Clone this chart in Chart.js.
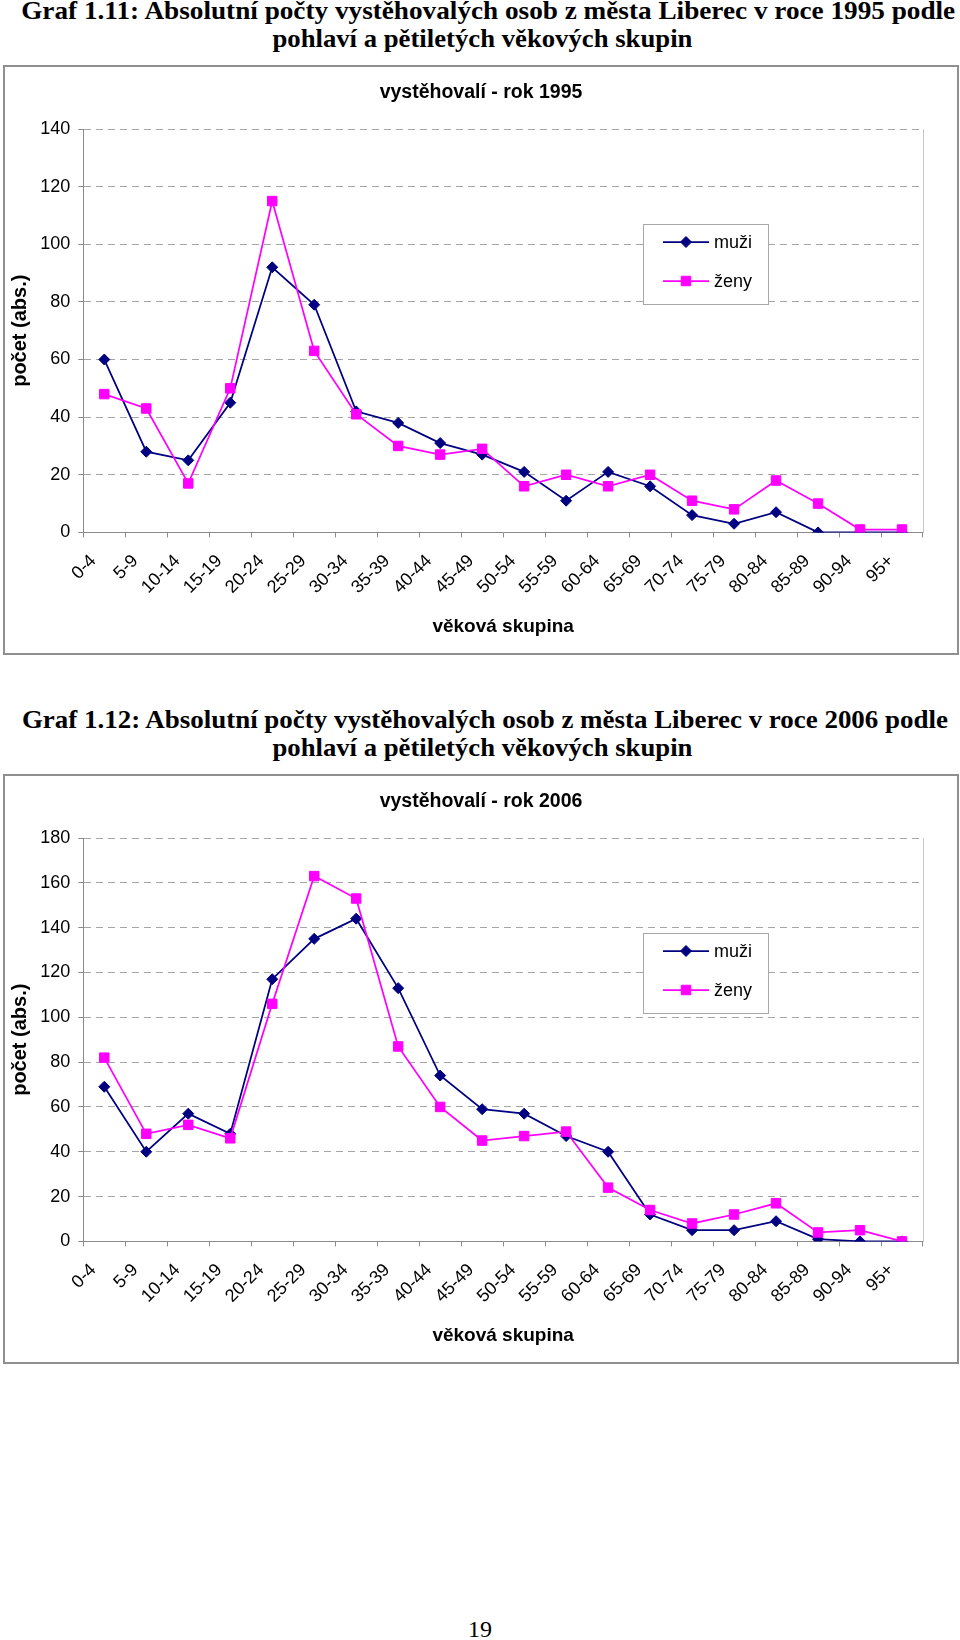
<!DOCTYPE html>
<html><head><meta charset="utf-8">
<script src="https://cdn.jsdelivr.net/npm/chart.js@4.4.1/dist/chart.umd.min.js"></script>
<style>
html,body{margin:0;padding:0;background:#fff;width:960px;height:1640px;overflow:hidden;}
.t{position:absolute;width:960px;text-align:center;font-family:"Liberation Serif","Times New Roman",serif;font-weight:bold;font-size:26px;line-height:24px;white-space:nowrap;color:#000;}
.t span{display:inline-block;transform-origin:center center;}
.box{position:absolute;left:3px;width:956px;height:590px;box-sizing:border-box;border:2px solid #8f8f8f;pointer-events:none;}
canvas.c{position:absolute;left:3px;}
.pg{position:absolute;left:0;width:960px;top:1617px;text-align:center;font-family:"Liberation Serif","Times New Roman",serif;font-size:24px;line-height:24px;}
</style></head><body>

<div class="t" style="left:8px;top:-1px"><span data-w="934">Graf 1.11: Absolutní počty vystěhovalých osob z města Liberec v roce 1995 podle</span></div>
<div class="t" style="left:2px;top:27px"><span data-w="420">pohlaví a pětiletých věkových skupin</span></div>
<canvas id="c1" class="c" width="956" height="590" style="top:65px;width:956px;height:590px"></canvas>
<div class="box" style="top:65px"></div>

<div class="t" style="left:5px;top:708px"><span data-w="926">Graf 1.12: Absolutní počty vystěhovalých osob z města Liberec v roce 2006 podle</span></div>
<div class="t" style="left:2px;top:736px"><span data-w="420">pohlaví a pětiletých věkových skupin</span></div>
<canvas id="c2" class="c" width="956" height="590" style="top:774px;width:956px;height:590px"></canvas>
<div class="box" style="top:774px"></div>

<div class="pg">19</div>

<script>
// ---------- data ----------
const ageGroups = ['0-4','5-9','10-14','15-19','20-24','25-29','30-34','35-39','40-44','45-49',
                   '50-54','55-59','60-64','65-69','70-74','75-79','80-84','85-89','90-94','95+'];
const seriesNames = ['muži', 'ženy'];
const muzi1995 = [60, 28, 25, 45, 92, 79, 42, 38, 31, 27, 21, 11, 21, 16, 6, 3, 7, 0, 0, 0];
const zeny1995 = [48, 43, 17, 50, 115, 63, 41, 30, 27, 29, 16, 20, 16, 20, 11, 8, 18, 10, 1, 1];
const muzi2006 = [69, 40, 57, 48, 117, 135, 144, 113, 74, 59, 57, 47, 40, 12, 5, 5, 9, 1, 0, 0];
const zeny2006 = [82, 48, 52, 46, 106, 163, 153, 87, 60, 45, 47, 49, 24, 14, 8, 12, 17, 4, 5, 0];
const yMax1995 = 140, yMax2006 = 180, yStep = 20;
const title1995 = 'vystěhovalí - rok 1995';
const title2006 = 'vystěhovalí - rok 2006';
const xTitle = 'věková skupina';
const yTitle = 'počet (abs.)';

// ---------- page titles fit ----------
document.querySelectorAll('.t span').forEach(s => {
  const target = +s.dataset.w;
  const w = s.getBoundingClientRect().width;
  s.style.transform = 'scaleX(' + (target / w) + ')';
});

// ---------- chart ----------
const FAM = '"Liberation Sans", Arial, Helvetica, sans-serif';
Chart.defaults.font.family = FAM;
Chart.defaults.color = '#000';

const boxLegend = {
  id: 'boxLegend',
  beforeDatasetsDraw(chart, args, o) {
    const ctx = chart.ctx;
    ctx.save();
    ctx.fillStyle = '#fff';
    ctx.fillRect(o.x, o.y, o.w, o.h);
    ctx.strokeStyle = '#a8a8a8';
    ctx.lineWidth = 1;
    ctx.strokeRect(o.x + 0.5, o.y + 0.5, o.w, o.h);
    const items = chart.data.datasets.slice().sort((a, b) => a.legendIndex - b.legendIndex);
    items.forEach((ds, i) => {
      const cy = o.y + o.firstRow + i * o.rowGap;
      const x0 = o.x + o.lineStart;
      ctx.setLineDash([]);
      ctx.strokeStyle = ds.borderColor;
      ctx.lineWidth = ds.borderWidth;
      ctx.beginPath(); ctx.moveTo(x0, cy); ctx.lineTo(x0 + o.lineLen, cy); ctx.stroke();
      ctx.fillStyle = ds.pointBackgroundColor;
      ctx.strokeStyle = ds.pointBorderColor;
      ctx.lineWidth = 1;
      Chart.helpers.drawPoint(ctx, {pointStyle: ds.pointStyle, radius: ds.pointRadius, rotation: 0, borderWidth: 1}, x0 + o.lineLen / 2, cy);
      ctx.fillStyle = '#000';
      ctx.font = '18px ' + FAM;
      ctx.textBaseline = 'middle';
      ctx.textAlign = 'left';
      ctx.fillText(ds.label, x0 + o.lineLen + o.textGap, cy + 1);
    });
    ctx.restore();
  }
};

function makeChart(id, title, muzi, zeny, yMax) {
  return new Chart(document.getElementById(id), {
    type: 'line',
    data: {
      labels: ageGroups,
      datasets: [
        {label: seriesNames[0], legendIndex: 0, order: 2, data: muzi, borderColor: '#000080', backgroundColor: '#000080',
         pointBackgroundColor: '#000080', pointBorderColor: '#000080', borderWidth: 1.75,
         pointStyle: 'rectRot', pointRadius: 5.5, pointBorderWidth: 1, tension: 0, fill: false},
        {label: seriesNames[1], legendIndex: 1, order: 1, data: zeny, borderColor: '#ff00ff', backgroundColor: '#ff00ff',
         pointBackgroundColor: '#ff00ff', pointBorderColor: '#ff00ff', borderWidth: 1.75,
         pointStyle: 'rect', pointRadius: 6.7, pointBorderWidth: 1, tension: 0, fill: false}
      ]
    },
    options: {
      responsive: false, animation: false, devicePixelRatio: 1, events: [],
      layout: {padding: {left: 0, right: 0, top: 0, bottom: 0}},
      plugins: {
        legend: {display: false},
        tooltip: {enabled: false},
        title: {display: true, text: title, color: '#000', font: {size: 19.5, weight: 'bold'}, padding: {top: 16.3, bottom: 24.3}},
        boxLegend: {x: 640, y: 159, w: 125, h: 80, firstRow: 18, rowGap: 39, lineStart: 20, lineLen: 46, textGap: 5}
      },
      scales: {
        x: {
          offset: true,
          grid: {display: true, drawOnChartArea: false, offset: true, tickLength: 5, color: '#8a8a8a', tickColor: '#8a8a8a'},
          border: {display: true, color: '#8a8a8a', width: 1},
          ticks: {color: '#000', font: {size: 18}, minRotation: 45, maxRotation: 45, autoSkip: false, padding: 13, labelOffset: -11},
          title: {display: true, text: xTitle, color: '#000', font: {size: 19, weight: 'bold'}, padding: {top: 0, bottom: 16.6}},
          afterFit: s => { s.height = 122.6; }
        },
        y: {
          min: 0, max: yMax,
          ticks: {stepSize: yStep, color: '#000', font: {size: 18}, padding: 8},
          grid: {color: '#a6a6a6', lineWidth: 1, tickLength: 5, tickColor: '#8a8a8a'},
          border: {display: true, color: '#8a8a8a', width: 1, dash: [7, 5]},
          title: {display: true, text: yTitle, color: '#000', font: {size: 20, weight: 'bold'}, padding: {top: 5.5, bottom: 0}},
          afterFit: s => { s.width = 80.3; }
        },
        y2: {
          position: 'right', display: true,
          grid: {display: false},
          ticks: {display: false},
          border: {display: true, color: '#c8c8c8', width: 1},
          afterFit: s => { s.width = 36; }
        }
      }
    },
    plugins: [boxLegend]
  });
}

makeChart('c1', title1995, muzi1995, zeny1995, yMax1995);
makeChart('c2', title2006, muzi2006, zeny2006, yMax2006);
</script>
</body></html>
